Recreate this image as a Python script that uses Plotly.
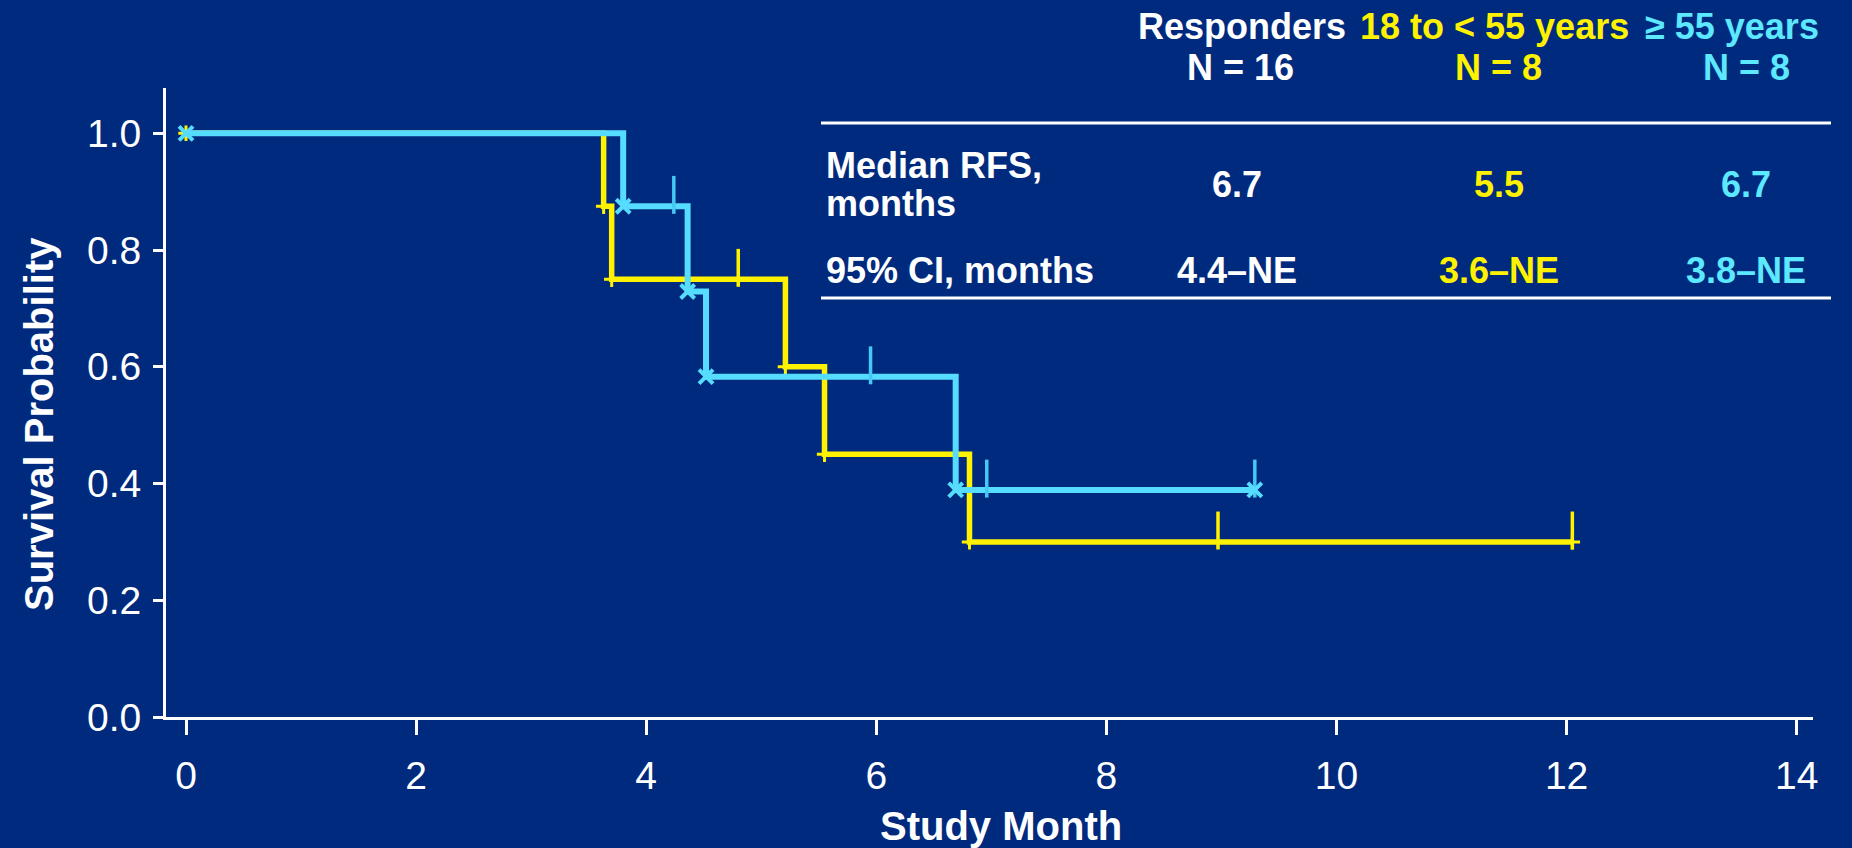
import plotly.graph_objects as go

# ---------------- data ----------------
young_event_t = [0, 3.63, 3.70, 5.21, 5.55, 6.81]
young_surv = [1.0, 0.875, 0.75, 0.60, 0.45, 0.30]
young_end_t = 12.05
young_censor_t = [4.80, 8.97, 12.05]
young_censor_s = [0.75, 0.30, 0.30]

old_event_t = [0, 3.80, 4.36, 4.52, 6.69]
old_surv = [1.0, 0.875, 0.729, 0.583, 0.389]
old_end_t = 9.29
old_censor_t = [4.24, 5.95, 6.96, 9.29]
old_censor_s = [0.875, 0.583, 0.389, 0.389]

x_ticks = [0, 2, 4, 6, 8, 10, 12, 14]
y_ticks = [0.0, 0.2, 0.4, 0.6, 0.8, 1.0]

header_groups = ["Responders", "18 to < 55 years", "\u2265 55 years"]
header_n = ["N = 16", "N = 8", "N = 8"]
median_rfs = ["6.7", "5.5", "6.7"]
ci_95 = ["4.4\u2013NE", "3.6\u2013NE", "3.8\u2013NE"]

# ---------------- style ----------------
BG = "#002A7E"
YEL = "#FFF200"
CYAN = "#55DCFF"
CYAN_TXT = "#5CE8FF"
CYAN_CENS = "#45C8F5"
WHITE = "#FFFFFF"
FONT = "Liberation Sans, Arial, sans-serif"

W, H = 1852, 848
L, R, T, B = 166, 1813, 88, 717


def px(x):
    return (x - L) / (R - L)


def py(y):
    return (B - y) / (B - T)


def censor_segments(ts, ss, up=0.052, down=0.013):
    xs, ys = [], []
    for t, s in zip(ts, ss):
        xs += [t, t, None]
        ys += [s - down, s + up, None]
    return xs, ys


fig = go.Figure()

# yellow group (18 to <55)
fig.add_trace(go.Scatter(
    x=young_event_t + [young_end_t], y=young_surv + [young_surv[-1]],
    mode="lines", line=dict(color=YEL, width=5.5, shape="hv"), hoverinfo="skip"))
cx, cy = censor_segments(young_censor_t, young_censor_s)
fig.add_trace(go.Scatter(x=cx, y=cy, mode="lines",
                         line=dict(color=YEL, width=3.5), hoverinfo="skip"))
fig.add_trace(go.Scatter(
    x=young_event_t + [young_end_t], y=young_surv + [young_surv[-1]],
    mode="markers", marker=dict(symbol="cross-thin", size=11,
                                line=dict(color=YEL, width=3)),
    hoverinfo="skip"))

# cyan group (>=55)
fig.add_trace(go.Scatter(
    x=old_event_t + [old_end_t], y=old_surv + [old_surv[-1]],
    mode="lines", line=dict(color=CYAN, width=6, shape="hv"), hoverinfo="skip"))
cx, cy = censor_segments(old_censor_t, old_censor_s)
fig.add_trace(go.Scatter(x=cx, y=cy, mode="lines",
                         line=dict(color=CYAN_CENS, width=3.5), hoverinfo="skip"))
fig.add_trace(go.Scatter(
    x=old_event_t + [old_end_t], y=old_surv + [old_surv[-1]],
    mode="markers", marker=dict(symbol="x-thin", size=14,
                                line=dict(color=CYAN, width=4)),
    hoverinfo="skip"))

x_min = (L - 186) / 115.05
x_max = (R - 186) / 115.05
y_max = (B - T) / 583.7

fig.update_layout(
    width=W, height=H,
    paper_bgcolor=BG, plot_bgcolor=BG,
    margin=dict(l=L, r=W - R, t=T, b=H - B, pad=0),
    showlegend=False,
    font=dict(family=FONT, color=WHITE),
    xaxis=dict(range=[x_min, x_max], tickvals=x_ticks, ticktext=[str(v) for v in x_ticks],
               showgrid=False, zeroline=False, showline=True, linecolor=WHITE, linewidth=3,
               ticks="outside", ticklen=15, tickwidth=3, tickcolor=WHITE,
               tickfont=dict(size=39, color=WHITE, family=FONT),
               ticklabelstandoff=7, fixedrange=True),
    yaxis=dict(range=[0, y_max], tickvals=y_ticks, ticktext=[f"{v:.1f}" for v in y_ticks],
               showgrid=False, zeroline=False, showline=True, linecolor=WHITE, linewidth=3,
               ticks="outside", ticklen=10, tickwidth=3, tickcolor=WHITE,
               tickfont=dict(size=39, color=WHITE, family=FONT),
               ticklabelstandoff=4, fixedrange=True),
)

ann = []


def add_text(text, x, y, size, color, xanchor="center", bold=True, angle=0):
    ann.append(dict(text=f"<b>{text}</b>" if bold else text, x=px(x), y=py(y),
                    xref="paper", yref="paper", xanchor=xanchor, yanchor="middle",
                    showarrow=False, textangle=angle,
                    font=dict(size=size, color=color, family=FONT)))


# axis titles
add_text("Study Month", 1001, 826, 40, WHITE)
add_text("Survival Probability", 39, 424, 40, WHITE, angle=-90)

# table header
col_x_head = [1242, 1494, 1732]
col_x_n = [1240, 1498, 1746]
col_colors = [WHITE, YEL, CYAN_TXT]
for i in range(3):
    add_text(header_groups[i], col_x_head[i], 26, 36, col_colors[i])
    add_text(header_n[i], col_x_n[i], 68, 36, col_colors[i])

# table body
col_x_val = [1237, 1499, 1746]
add_text("Median RFS,", 824, 165, 36, WHITE, xanchor="left")
add_text("months", 824, 203, 36, WHITE, xanchor="left")
add_text("95% CI, months", 824, 270, 36, WHITE, xanchor="left")
for i in range(3):
    add_text(median_rfs[i], col_x_val[i], 184, 36, col_colors[i])
    add_text(ci_95[i], col_x_val[i], 270, 36, col_colors[i])

fig.update_layout(annotations=ann)

# table rules
for yy in (123, 298):
    fig.add_shape(type="line", xref="paper", yref="paper",
                  x0=px(821), x1=px(1831), y0=py(yy), y1=py(yy),
                  line=dict(color=WHITE, width=3))

post = (
    "document.body.style.margin='0';"
    "document.body.style.padding='0';"
    "document.body.style.overflow='hidden';"
    f"document.body.style.background='{BG}';"
    f"document.documentElement.style.background='{BG}';"
)

fig.write_html("out.html", config={"displayModeBar": False, "staticPlot": True},
               post_script=post)
